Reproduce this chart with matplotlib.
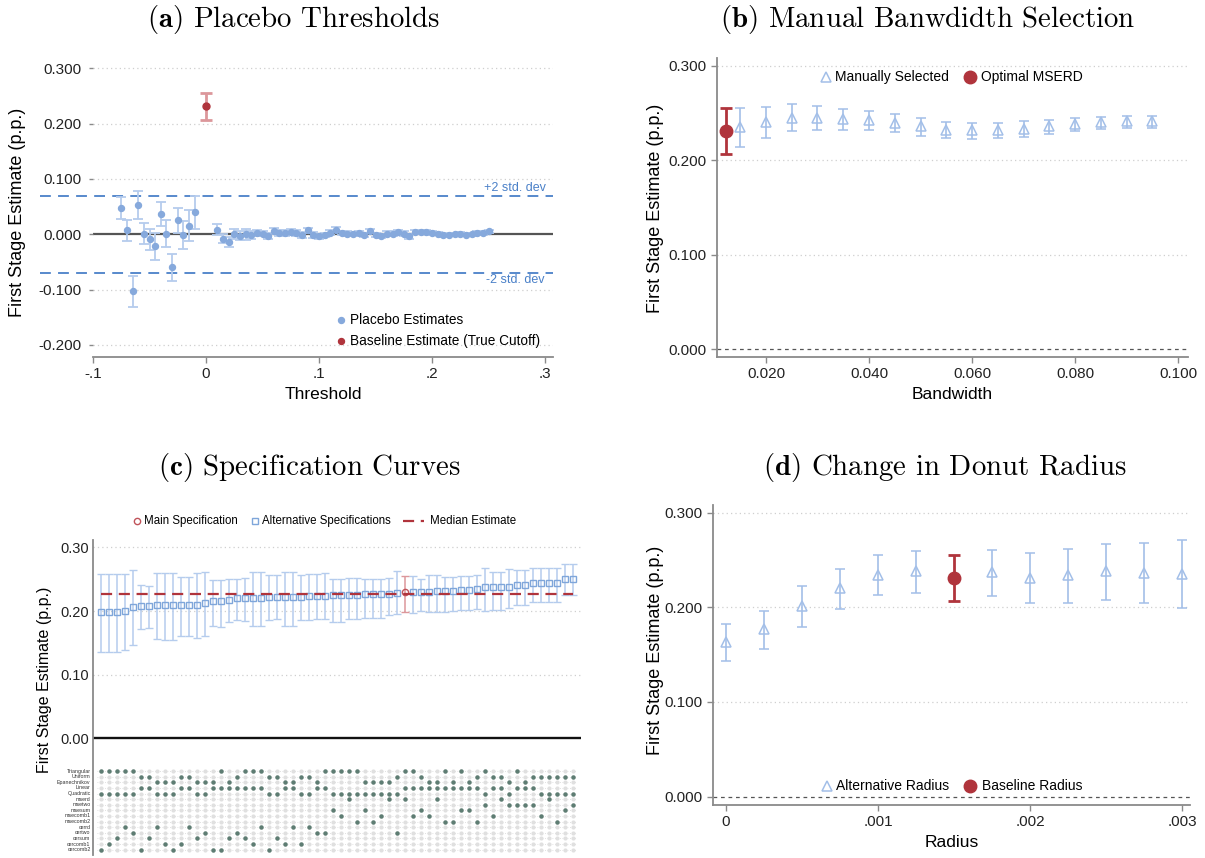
import numpy as np
import matplotlib
matplotlib.use('Agg')
import matplotlib.pyplot as plt

plt.rcParams['font.family'] = ['Liberation Sans', 'DejaVu Sans']
plt.rcParams['mathtext.fontset'] = 'cm'

# ---------------- data ----------------
# (a) placebo thresholds
thr_a = [-0.075, -0.070, -0.065, -0.060, -0.055, -0.050, -0.045, -0.040, -0.035, -0.030, -0.025, -0.020, -0.015, -0.010,
         0.010, 0.015, 0.020, 0.025, 0.030, 0.035, 0.040, 0.045, 0.050, 0.055, 0.060, 0.065, 0.070, 0.075, 0.080, 0.085,
         0.090, 0.095, 0.100, 0.105, 0.110, 0.115, 0.120, 0.125, 0.130, 0.135, 0.140, 0.145, 0.150, 0.155, 0.160, 0.165,
         0.170, 0.175, 0.180, 0.185, 0.190, 0.195, 0.200, 0.205, 0.210, 0.215, 0.220, 0.225, 0.230, 0.235, 0.240, 0.245, 0.250]
est_a = [0.048, 0.007, -0.103, 0.053, 0.001, -0.009, -0.022, 0.037, 0.001, -0.060, 0.025, -0.002, 0.015, 0.040,
         0.0085, -0.0085, -0.014, 0.001, -0.003, 0.000, -0.002, 0.002, 0.001, -0.003, 0.006, 0.002, 0.002, 0.004, 0.002, -0.001,
         0.007, -0.001, -0.004, -0.001, 0.003, 0.0085, 0.002, 0.001, 0.000, 0.002, -0.001, 0.006, -0.001, -0.003, 0.001, 0.001,
         0.004, 0.001, -0.004, 0.004, 0.004, 0.004, 0.002, 0.001, -0.002, -0.001, 0.000, 0.001, -0.001, 0.000, 0.002, 0.002, 0.005]
hw_a = [0.020, 0.019, 0.028, 0.026, 0.019, 0.019, 0.025, 0.022, 0.024, 0.025, 0.023, 0.025, 0.028, 0.030,
        0.010, 0.008, 0.009, 0.009, 0.008, 0.010, 0.007, 0.005, 0.005, 0.005, 0.005, 0.005, 0.005, 0.005, 0.005, 0.005,
        0.005, 0.005, 0.005, 0.004, 0.004, 0.004, 0.004, 0.004, 0.004, 0.004, 0.004, 0.004, 0.004, 0.004, 0.004, 0.004,
        0.004, 0.004, 0.004, 0.004, 0.004, 0.004, 0.003, 0.003, 0.003, 0.003, 0.003, 0.003, 0.003, 0.003, 0.003, 0.003, 0.003]
base_thr, base_est, base_hw = 0.0, 0.231, 0.024
sd2 = 0.070

# (b) manual bandwidths
bw_b = [0.015, 0.020, 0.025, 0.030, 0.035, 0.040, 0.045, 0.050, 0.055, 0.060, 0.065, 0.070, 0.075, 0.080, 0.085, 0.090, 0.095]
est_b = [0.235, 0.240, 0.245, 0.245, 0.244, 0.242, 0.239, 0.236, 0.232, 0.232, 0.232, 0.233, 0.236, 0.2385, 0.2405, 0.241, 0.241]
lo_b = [0.214, 0.223, 0.231, 0.232, 0.232, 0.232, 0.230, 0.226, 0.223, 0.2225, 0.2235, 0.225, 0.228, 0.231, 0.233, 0.234, 0.2345]
hi_b = [0.255, 0.256, 0.259, 0.257, 0.254, 0.252, 0.249, 0.245, 0.240, 0.2395, 0.2395, 0.241, 0.243, 0.245, 0.246, 0.247, 0.247]
opt_bw, opt_est, opt_lo, opt_hi = 0.0122, 0.231, 0.207, 0.255

# (c) specification curve
est_c = [0.198, 0.199, 0.199, 0.200, 0.206, 0.208, 0.208, 0.209, 0.209, 0.209, 0.210, 0.210, 0.210, 0.213, 0.215,
         0.215, 0.218, 0.220, 0.220, 0.221, 0.221, 0.222, 0.222, 0.222, 0.222, 0.222, 0.223, 0.223, 0.224, 0.225,
         0.225, 0.225, 0.225, 0.226, 0.226, 0.226, 0.226, 0.229, 0.230, 0.2295, 0.230, 0.2305, 0.231, 0.232, 0.232,
         0.2325, 0.233, 0.234, 0.2375, 0.2375, 0.2375, 0.2375, 0.2405, 0.2415, 0.2435, 0.2435, 0.2435, 0.2435, 0.2505, 0.2505]
lo_c = [0.136, 0.136, 0.136, 0.139, 0.146, 0.171, 0.173, 0.156, 0.155, 0.155, 0.161, 0.161, 0.157, 0.161, 0.176,
        0.175, 0.183, 0.186, 0.185, 0.176, 0.176, 0.186, 0.187, 0.177, 0.177, 0.186, 0.186, 0.188, 0.188, 0.182,
        0.183, 0.188, 0.187, 0.189, 0.189, 0.189, 0.193, 0.196, 0.198, 0.197, 0.200, 0.198, 0.198, 0.199, 0.200,
        0.202, 0.202, 0.203, 0.200, 0.202, 0.202, 0.204, 0.209, 0.210, 0.214, 0.214, 0.214, 0.214, 0.225, 0.225]
hi_c = [0.258, 0.258, 0.258, 0.258, 0.264, 0.241, 0.239, 0.259, 0.259, 0.259, 0.253, 0.253, 0.260, 0.262, 0.249,
        0.249, 0.250, 0.251, 0.252, 0.261, 0.261, 0.257, 0.257, 0.262, 0.262, 0.257, 0.258, 0.258, 0.259, 0.251,
        0.251, 0.252, 0.252, 0.250, 0.251, 0.251, 0.252, 0.263, 0.255, 0.255, 0.250, 0.257, 0.257, 0.254, 0.254,
        0.255, 0.255, 0.257, 0.267, 0.262, 0.262, 0.266, 0.265, 0.265, 0.268, 0.267, 0.267, 0.268, 0.274, 0.274]
main_idx = 38
median_c = 0.227
kernel_labels = ['Triangular', 'Uniform', 'Epanechnikov']
poly_labels = ['Linear', 'Quadratic']
bw_labels = ['mserd', 'msetwo', 'msesum', 'msecomb1', 'msecomb2', 'cerrd', 'certwo', 'cersum', 'cercomb1', 'cercomb2']
kernel_c = [0, 0, 0, 0, 0, 1, 1, 2, 2, 2, 1, 1, 2, 2, 2,
            0, 2, 1, 0, 0, 0, 1, 1, 2, 2, 1, 1, 2, 0, 0,
            0, 0, 0, 2, 2, 2, 2, 1, 0, 0, 1, 2, 2, 0, 2,
            0, 2, 1, 0, 1, 1, 2, 0, 2, 1, 1, 1, 1, 1, 1]
poly_c = [1, 1, 1, 1, 1, 0, 0, 1, 1, 1, 0, 0, 1, 1, 0,
          0, 0, 0, 0, 0, 0, 1, 1, 0, 0, 1, 1, 0, 0, 1,
          1, 1, 1, 1, 1, 1, 1, 1, 0, 0, 0, 0, 0, 0, 0,
          0, 0, 0, 1, 0, 0, 1, 0, 0, 0, 1, 1, 1, 1, 1]
bwsel_c = [9, 8, 7, 5, 6, 9, 7, 5, 8, 9, 8, 5, 7, 6, 9,
           9, 7, 6, 7, 8, 5, 9, 7, 8, 5, 8, 5, 6, 6, 2,
           3, 0, 4, 2, 4, 3, 0, 6, 0, 3, 2, 3, 0, 4, 4,
           2, 2, 4, 1, 3, 0, 1, 1, 1, 1, 3, 0, 4, 2, 1]

# (d) donut radius
rad_d = [0.0, 0.00025, 0.0005, 0.00075, 0.001, 0.00125, 0.00175, 0.002, 0.00225, 0.0025, 0.00275, 0.003]
est_d = [0.163, 0.177, 0.201, 0.220, 0.234, 0.238, 0.237, 0.231, 0.234, 0.238, 0.236, 0.235]
lo_d = [0.143, 0.156, 0.179, 0.198, 0.213, 0.215, 0.212, 0.204, 0.205, 0.208, 0.204, 0.199]
hi_d = [0.182, 0.196, 0.222, 0.240, 0.255, 0.259, 0.260, 0.257, 0.262, 0.267, 0.268, 0.271]
base_rad, base_rest, base_rlo, base_rhi = 0.0015, 0.231, 0.207, 0.255

# ---------------- style ----------------
BLUE_PT = '#86a9dc'
BLUE_CI = '#b5cced'
TRI = '#a3bfe8'
RED = '#b0343c'
RED_LIGHT = '#dc979b'
DASH_BLUE = '#4a80c8'
GRID = '#cfcfcf'
AXC = '#8a8a8a'
DARK_DOT = '#5e7d73'
LIGHT_DOT = '#e0e0e0'
TICK_FS = 11
LAB_FS = 12.5
LEG_FS = 10

W, H = 1205, 858
fig = plt.figure(figsize=(W / 100, H / 100), dpi=100)


def rect(l, t, r, b):
    return [l / W, 1 - b / H, (r - l) / W, (b - t) / H]


def style_axes(ax, left=True, bottom=True):
    for s in ['top', 'right']:
        ax.spines[s].set_visible(False)
    ax.spines['left'].set_visible(left)
    ax.spines['bottom'].set_visible(bottom)
    ax.spines['left'].set_color(AXC)
    ax.spines['bottom'].set_color(AXC)
    ax.spines['left'].set_linewidth(1.3)
    ax.spines['bottom'].set_linewidth(1.3)
    ax.tick_params(colors='#222222', labelsize=TICK_FS, length=4, width=1, direction='out')
    ax.tick_params(axis='both', color=AXC)


def ygrid(ax, vals):
    for v in vals:
        ax.axhline(v, color=GRID, lw=0.9, ls=(0, (1, 2.5)), zorder=0)


def title(x, y, lab, txt):
    fig.text(x / W, 1 - y / H, r'$\mathbf{(' + lab + r')}$ ' + txt, fontfamily='cmr10',
             fontsize=20.8, ha='center', va='center')


# ---------------- panel (a) ----------------
ax = fig.add_axes(rect(93, 60, 553, 357))
style_axes(ax, left=False)
ax.set_xlim(-0.1, 0.307)
ax.set_ylim(-0.222, 0.315)
ygrid(ax, [-0.2, -0.1, 0.1, 0.2, 0.3])
ax.axhline(0, color='#555555', lw=1.6, zorder=1)
tr = ax.get_yaxis_transform()
for v in (sd2, -sd2):
    ax.plot([-0.115, 1.0], [v, v], transform=tr, clip_on=False, color=DASH_BLUE, lw=1.3,
            ls=(0, (6, 4)), zorder=1)
ax.text(0.2735, sd2 + 0.002, '+2 std. dev', color=DASH_BLUE, fontsize=9, ha='center', va='bottom')
ax.text(0.2735, -sd2 - 0.002, '-2 std. dev', color=DASH_BLUE, fontsize=9, ha='center', va='top')
ax.errorbar(thr_a, est_a, yerr=hw_a, fmt='o', ms=4.3, mfc=BLUE_PT, mec=BLUE_PT, ecolor=BLUE_CI,
            elinewidth=1.3, capsize=3.5, capthick=1.3, zorder=3)
ax.errorbar([base_thr], [base_est], yerr=[base_hw], fmt='o', ms=5, mfc=RED, mec=RED, ecolor=RED_LIGHT,
            elinewidth=2, capsize=4, capthick=2, zorder=3)
ax.set_xticks([-0.1, 0, 0.1, 0.2, 0.3])
ax.set_xticklabels(['-.1', '0', '.1', '.2', '.3'])
yt = [-0.2, -0.1, 0.0, 0.1, 0.2, 0.3]
ax.set_yticks(yt)
ax.set_yticklabels(['%.3f' % v for v in yt])
ax.tick_params(axis='y', length=3, pad=5)
ax.set_xlabel('Threshold', fontsize=LAB_FS, labelpad=4)
# legend
ax.plot([0.539], [0.125], 'o', transform=ax.transAxes, ms=4.3, color=BLUE_PT, clip_on=False)
ax.text(0.558, 0.125, 'Placebo Estimates', transform=ax.transAxes, fontsize=9.8, va='center')
ax.plot([0.539], [0.054], 'o', transform=ax.transAxes, ms=4.3, color=RED, clip_on=False)
ax.text(0.558, 0.054, 'Baseline Estimate (True Cutoff)', transform=ax.transAxes, fontsize=9.8, va='center')
fig.text(18 / W, 1 - 212 / H, 'First Stage Estimate (p.p.)', rotation=90, fontsize=13,
         ha='center', va='center')
title(294, 20, 'a', 'Placebo Thresholds')

# ---------------- panel (b) ----------------
ax = fig.add_axes(rect(717, 58, 1188, 357))
style_axes(ax)
ax.set_xlim(0.0105, 0.1019)
ax.set_ylim(-0.008, 0.308)
ygrid(ax, [0.1, 0.2, 0.3])
ax.axhline(0, color='#555555', lw=0.9, ls=(0, (3, 3)), zorder=1)
yerr_b = [np.array(est_b) - np.array(lo_b), np.array(hi_b) - np.array(est_b)]
ax.errorbar(bw_b, est_b, yerr=yerr_b, fmt='^', ms=6.5, mfc='none', mec=TRI, mew=1.1, ecolor=TRI,
            elinewidth=1.2, capsize=3.5, capthick=1.2, zorder=3)
ax.errorbar([opt_bw], [opt_est], yerr=[[opt_est - opt_lo], [opt_hi - opt_est]], fmt='o', ms=9,
            mfc=RED, mec=RED, ecolor=RED, elinewidth=2, capsize=4, capthick=2, zorder=4)
xt = [0.02, 0.04, 0.06, 0.08, 0.10]
ax.set_xticks(xt)
ax.set_xticklabels(['%.3f' % v for v in xt])
yt = [0.0, 0.1, 0.2, 0.3]
ax.set_yticks(yt)
ax.set_yticklabels(['%.3f' % v for v in yt])
ax.set_xlabel('Bandwidth', fontsize=LAB_FS, labelpad=4)
ax.plot([0.231], [0.936], '^', transform=ax.transAxes, ms=6.5, mfc='none', mec=TRI, mew=1.1, clip_on=False)
ax.text(0.251, 0.936, 'Manually Selected', transform=ax.transAxes, fontsize=LEG_FS, va='center')
ax.plot([0.537], [0.936], 'o', transform=ax.transAxes, ms=9, color=RED, clip_on=False)
ax.text(0.561, 0.936, 'Optimal MSERD', transform=ax.transAxes, fontsize=LEG_FS, va='center')
fig.text(655 / W, 1 - 208 / H, 'First Stage Estimate (p.p.)', rotation=90, fontsize=13,
         ha='center', va='center')
title(928, 20, 'b', 'Manual Banwdidth Selection')

# ---------------- panel (c) ----------------
ax = fig.add_axes(rect(93, 540, 581, 855))
style_axes(ax, bottom=False)
n = len(est_c)
xs = np.arange(n)
ax.set_xlim(-1, n)
ax.set_ylim(-0.183, 0.3115)
for v in [0.1, 0.2, 0.3]:
    ax.axhline(v, color=GRID, lw=0.9, ls=(0, (1, 2.5)), zorder=0)
ax.axhline(0, color='#111111', lw=1.7, zorder=1)
alt = [i for i in range(n) if i != main_idx]
ec = np.array(est_c)
lc = np.array(lo_c)
hc = np.array(hi_c)
ax.errorbar(xs[alt], ec[alt], yerr=[ec[alt] - lc[alt], hc[alt] - ec[alt]], fmt='s', ms=4.2, mfc='none',
            mec='#7fa6da', mew=1.0, ecolor=BLUE_CI, elinewidth=1.1, capsize=3, capthick=1.1, zorder=3)
ax.errorbar([main_idx], [ec[main_idx]], yerr=[[ec[main_idx] - lc[main_idx]], [hc[main_idx] - ec[main_idx]]],
            fmt='o', ms=4.5, mfc='none', mec='#c0545a', mew=1.0, ecolor=RED_LIGHT, elinewidth=1.1,
            capsize=3, capthick=1.1, zorder=4)
ax.plot([xs[0], xs[-1]], [median_c, median_c], color=RED, lw=1.6, ls=(0, (5, 3)), zorder=5)
# indicator matrix
row_labels = kernel_labels + poly_labels + bw_labels
row_y0, row_dy = -0.0512, 0.00882
row_y = [row_y0 - row_dy * r for r in range(len(row_labels))]
sel_rows = [[kernel_c[i], 3 + poly_c[i], 5 + bwsel_c[i]] for i in range(n)]
for r, yv in enumerate(row_y):
    ax.plot([xs[0] - 0.5, xs[-1] + 0.5], [yv, yv], color='#d8d8d8', lw=0.6, ls=(0, (1, 2)), zorder=1)
    ax.plot(xs, [yv] * n, 'o', ms=3.0, color=LIGHT_DOT, mew=0, zorder=2)
    on = [i for i in range(n) if r in sel_rows[i]]
    ax.plot(xs[on], [yv] * len(on), 'o', ms=3.2, color=DARK_DOT, mew=0, zorder=3)
    ax.text(-1.3, yv, row_labels[r], fontsize=3.8, ha='right', va='center', color='#333333')
yt = [0.0, 0.1, 0.2, 0.3]
ax.set_yticks(yt)
ax.set_yticklabels(['%.2f' % v for v in yt])
ax.tick_params(axis='y', length=0, pad=3, labelsize=10.5)
ax.set_xticks([])
# legend above
ly = 1.060
LFS_C = 8.3
ax.plot([(137 - 93) / 488], [ly], 'o', transform=ax.transAxes, ms=4.5, mfc='none', mec='#c0545a',
        mew=1.0, clip_on=False)
ax.text((144 - 93) / 488, ly, 'Main Specification', transform=ax.transAxes, fontsize=LFS_C, va='center')
ax.plot([(255 - 93) / 488], [ly], 's', transform=ax.transAxes, ms=4.2, mfc='none', mec='#7fa6da',
        mew=1.0, clip_on=False)
ax.text((262 - 93) / 488, ly, 'Alternative Specifications', transform=ax.transAxes, fontsize=LFS_C, va='center')
ax.plot([(403 - 93) / 488, (424 - 93) / 488], [ly, ly], transform=ax.transAxes, color=RED, lw=1.6,
        ls=(0, (5, 3)), clip_on=False)
ax.text((430 - 93) / 488, ly, 'Median Estimate', transform=ax.transAxes, fontsize=LFS_C, va='center')
fig.text(45 / W, 1 - 680 / H, 'First Stage Estimate (p.p.)', rotation=90, fontsize=11.5,
         ha='center', va='center')
title(309, 467, 'c', 'Specification Curves')

# ---------------- panel (d) ----------------
ax = fig.add_axes(rect(713, 505, 1190, 805))
style_axes(ax)
ax.set_xlim(-0.0000855, 0.00305)
ax.set_ylim(-0.0088, 0.308)
ygrid(ax, [0.1, 0.2, 0.3])
ax.axhline(0, color='#555555', lw=0.9, ls=(0, (3, 3)), zorder=1)
ed = np.array(est_d)
ax.errorbar(rad_d, est_d, yerr=[ed - np.array(lo_d), np.array(hi_d) - ed], fmt='^', ms=6.5, mfc='none',
            mec=TRI, mew=1.1, ecolor=TRI, elinewidth=1.2, capsize=3.5, capthick=1.2, zorder=3)
ax.errorbar([base_rad], [base_rest], yerr=[[base_rest - base_rlo], [base_rhi - base_rest]], fmt='o', ms=9,
            mfc=RED, mec=RED, ecolor=RED, elinewidth=2, capsize=4, capthick=2, zorder=4)
ax.set_xticks([0, 0.001, 0.002, 0.003])
ax.set_xticklabels(['0', '.001', '.002', '.003'])
yt = [0.0, 0.1, 0.2, 0.3]
ax.set_yticks(yt)
ax.set_yticklabels(['%.3f' % v for v in yt])
ax.set_xlabel('Radius', fontsize=LAB_FS, labelpad=4)
ax.plot([0.239], [0.063], '^', transform=ax.transAxes, ms=6.5, mfc='none', mec=TRI, mew=1.1, clip_on=False)
ax.text(0.258, 0.063, 'Alternative Radius', transform=ax.transAxes, fontsize=LEG_FS, va='center')
ax.plot([0.539], [0.063], 'o', transform=ax.transAxes, ms=9, color=RED, clip_on=False)
ax.text(0.563, 0.063, 'Baseline Radius', transform=ax.transAxes, fontsize=LEG_FS, va='center')
fig.text(655 / W, 1 - 650 / H, 'First Stage Estimate (p.p.)', rotation=90, fontsize=13,
         ha='center', va='center')
title(945, 467, 'd', 'Change in Donut Radius')

fig.savefig('out.png', dpi=100)
